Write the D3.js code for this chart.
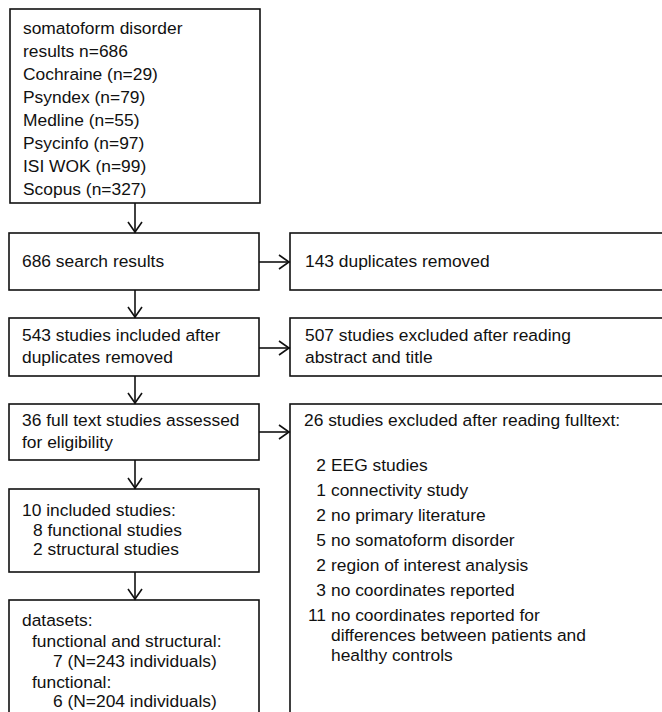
<!DOCTYPE html>
<html><head><meta charset="utf-8">
<script src="https://cdn.jsdelivr.net/npm/d3@7"></script>
<style>html,body{margin:0;padding:0;background:#fff;}svg{display:block;}</style>
</head><body>
<script>
// ---- content ----
const searchLines = ["somatoform disorder","results n=686","Cochraine (n=29)","Psyndex (n=79)","Medline (n=55)","Psycinfo (n=97)","ISI WOK (n=99)","Scopus (n=327)"];
const resultsLines = ["686 search results"];
const duplicatesLines = ["143 duplicates removed"];
const includedLines = ["543 studies included after","duplicates removed"];
const excludedAbsLines = ["507 studies excluded after reading","abstract and title"];
const fullTextLines = ["36 full text studies assessed","for eligibility"];
const excludedFullHeader = ["26 studies excluded after reading fulltext:"];
const exclusionCounts = ["2","1","2","5","2","3","11"];
const exclusionReasons = [["EEG studies"],["connectivity study"],["no primary literature"],["no somatoform disorder"],["region of interest analysis"],["no coordinates reported"],["no coordinates reported for","differences between patients and","healthy controls"]];
const studiesLines = [["10 included studies:",0],["8 functional studies",1],["2 structural studies",1]];
const datasetLines = [["datasets:",0],["functional and structural:",1],["7 (N=243 individuals)",2],["functional:",1],["6 (N=204 individuals)",2]];

// ---- drawing ----
const W = 662, H = 712;
const svg = d3.select("body").append("svg").attr("width", W).attr("height", H);
const font = "'Liberation Sans', Arial, sans-serif";
const fs = 17.4;
const stroke = "#111";

const L = {x0: 9, x1: 259, rx0: 290, rx1: 680};

function box(x0, y0, x1, y1) {
  svg.append("rect").attr("x", x0).attr("y", y0).attr("width", x1 - x0).attr("height", y1 - y0)
    .attr("fill", "none").attr("stroke", stroke).attr("stroke-width", 1.6);
}
function text(x, y, s, anchor) {
  svg.append("text").attr("x", x).attr("y", y).attr("dy", "0.35em")
    .attr("text-anchor", anchor || "start")
    .attr("font-family", font).attr("font-size", fs).attr("fill", "#111").text(s);
}
function vArrow(x, y0, y1) {
  svg.append("line").attr("x1", x).attr("x2", x).attr("y1", y0).attr("y2", y1)
    .attr("stroke", stroke).attr("stroke-width", 1.6);
  svg.append("path").attr("d", `M${x-7},${y1-11}L${x},${y1-1}L${x+7},${y1-11}`)
    .attr("fill", "none").attr("stroke", stroke).attr("stroke-width", 1.6);
}
function hArrow(x0, x1, y) {
  svg.append("line").attr("x1", x0).attr("x2", x1).attr("y1", y).attr("y2", y)
    .attr("stroke", stroke).attr("stroke-width", 1.6);
  svg.append("path").attr("d", `M${x1-11},${y-7}L${x1-1},${y}L${x1-11},${y+7}`)
    .attr("fill", "none").attr("stroke", stroke).attr("stroke-width", 1.6);
}

// box 1
box(10, 9, 260, 203);
searchLines.forEach((s, i) => text(23, 28 + i * 23, s));
vArrow(135, 203, 233);

// box 2
box(L.x0, 233, L.x1, 290);
resultsLines.forEach((s, i) => text(22, 261 + i * 22, s));
box(L.rx0, 233, L.rx1, 290);
duplicatesLines.forEach((s, i) => text(305, 261 + i * 22, s));
hArrow(L.x1, L.rx0, 262);
vArrow(135, 290, 318);

// box 3
box(L.x0, 318, L.x1, 376);
includedLines.forEach((s, i) => text(22, 335 + i * 22, s));
box(L.rx0, 318, L.rx1, 376);
excludedAbsLines.forEach((s, i) => text(305, 335 + i * 22, s));
hArrow(L.x1, L.rx0, 348);
vArrow(135, 376, 404);

// box 4
box(L.x0, 404, L.x1, 460);
fullTextLines.forEach((s, i) => text(22, 420 + i * 22, s));
box(L.rx0, 404, L.rx1, 730);
excludedFullHeader.forEach((s) => text(304, 420, s));
hArrow(L.x1, L.rx0, 432);
let yy = 465;
exclusionCounts.forEach((c, i) => {
  text(326, yy, c, "end");
  exclusionReasons[i].forEach((s, j) => text(331, yy + j * 20, s));
  yy += 25 + (exclusionReasons[i].length - 1) * 20;
});
vArrow(135, 460, 489);

// box 5
box(L.x0, 489, L.x1, 572);
studiesLines.forEach(([s, ind], i) => text(22 + ind * 11, 510 + i * 19.5, s));
vArrow(135, 572, 600);

// box 6
box(L.x0, 600, L.x1, 730);
const dsY = [620, 641, 661, 682, 701];
datasetLines.forEach(([s, ind], i) => text(22 + (ind === 1 ? 10 : ind === 2 ? 31 : 0), dsY[i], s));
</script>
</body></html>
